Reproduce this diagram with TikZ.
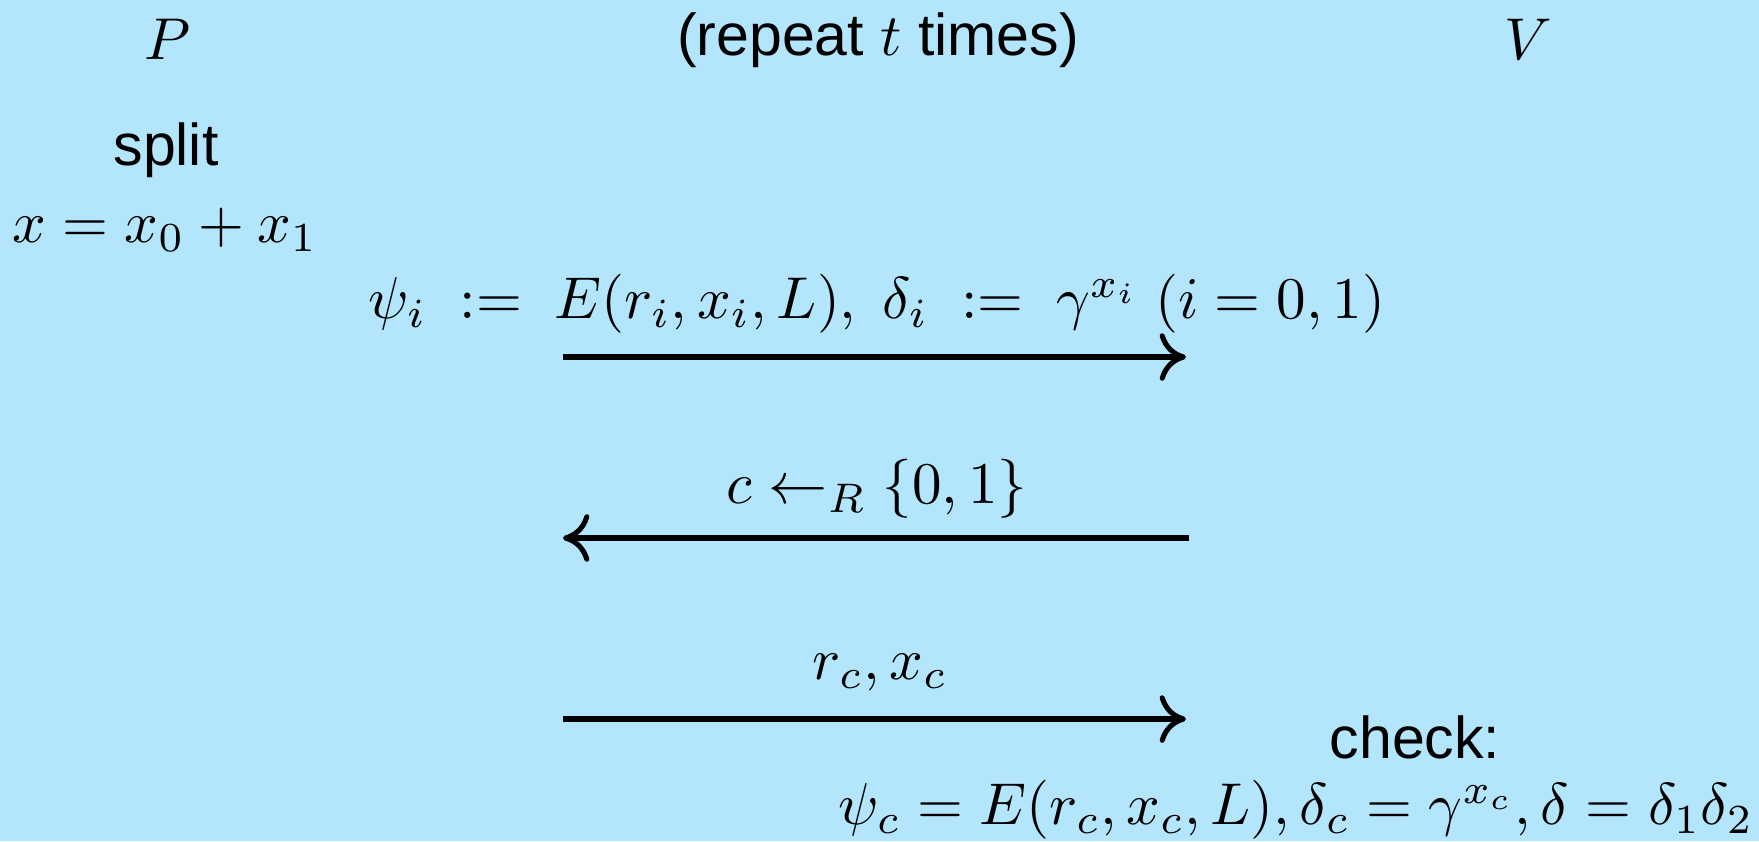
\documentclass[tikz,border=0pt]{standalone}
\usepackage{fontspec}
\setmainfont{Liberation Sans}
\usetikzlibrary{arrows.meta}
\definecolor{bgblue}{RGB}{179,229,253}
\tikzset{
  lbl/.style={inner sep=0pt, font=\fontsize{10}{12}\selectfont, scale=1.68},
  msg/.style={line width=1.45pt, -{Computer Modern Rightarrow[length=7.5pt,width=13.5pt,line width=1.45pt]}}
}
\begin{document}
\begin{tikzpicture}[x=0.2846pt,y=-0.2846pt]
\fill[bgblue] (0,0) rectangle (1759,841);
\useasboundingbox (0,0) rectangle (1759,841);
\node[lbl] (P) at (168,39) {$P$};
\node[lbl] (rep) at (878,40) {(repeat $t$ times)};
\node[lbl] (V) at (1528,39) {$V$};
\node[lbl] (split) at (166,150) {split};
\node[lbl] (xs) at (165,230) {$x=x_0+x_1$};
\node[lbl] (l1) at (877,304) {$\psi_i\ :=\ E(r_i,x_i,L),\ \delta_i\ :=\ \gamma^{x_i}\ (i=0,1)$};
\node[lbl] (l2) at (877,489) {$c\leftarrow_R\{0,1\}$};
\node[lbl] (l3) at (880,673) {$r_c,x_c$};
\node[lbl] (chk) at (1415,737) {check:};
\node[lbl] (eq) at (1296,810) {$\psi_c=E(r_c,x_c,L),\delta_c=\gamma^{x_c},\delta=\delta_1\delta_2$};
\coordinate (a1s) at (563,357);
\coordinate (a1e) at (1186,357);
\coordinate (a2s) at (1189,538);
\coordinate (a2e) at (563,538);
\coordinate (a3s) at (563,719);
\coordinate (a3e) at (1186,719);
\draw[msg] (a1s) -- (a1e);
\draw[msg] (a2s) -- (a2e);
\draw[msg] (a3s) -- (a3e);
\end{tikzpicture}
\end{document}
